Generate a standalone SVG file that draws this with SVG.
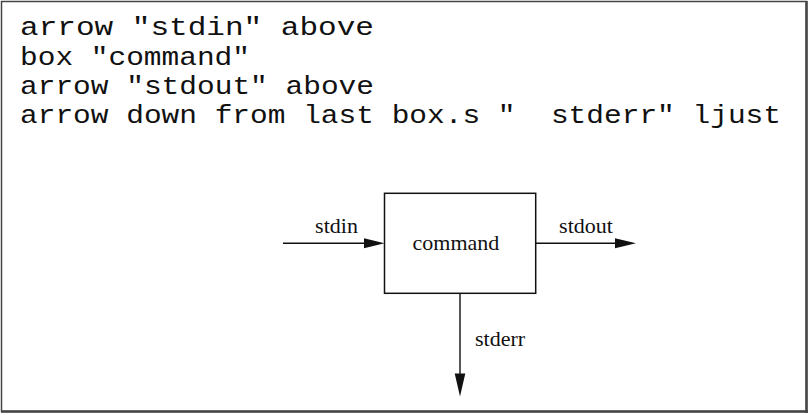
<svg xmlns="http://www.w3.org/2000/svg" width="809" height="415" viewBox="0 0 809 415">
<style>
.code{font-family:"Liberation Mono","Courier New",monospace;font-size:25px;fill:#111;white-space:pre}
.lbl{font-family:"Liberation Serif","Times New Roman",serif;font-size:22px;fill:#111}
.ln{stroke:#111;stroke-width:1.4;fill:none}
.head{fill:#111}
</style>
<rect x="0" y="0" width="809" height="415" fill="#fff"/>
<g id="frame">
<rect x="1.5" y="1.5" width="805" height="410" fill="none" stroke="#444" stroke-width="1.5"/>
<line x1="806.5" y1="1" x2="806.5" y2="413" stroke="#444" stroke-width="2.5"/>
<line x1="1" y1="411.5" x2="808" y2="411.5" stroke="#444" stroke-width="2.5"/>
</g>
<g id="code">
<text class="code" x="20" y="35" textLength="354" lengthAdjust="spacingAndGlyphs" xml:space="preserve">arrow "stdin" above</text>
<text class="code" x="20" y="64.5" textLength="230" lengthAdjust="spacingAndGlyphs" xml:space="preserve">box "command"</text>
<text class="code" x="20" y="93.5" textLength="354" lengthAdjust="spacingAndGlyphs" xml:space="preserve">arrow "stdout" above</text>
<text class="code" x="20" y="122.7" textLength="761" lengthAdjust="spacingAndGlyphs" xml:space="preserve">arrow down from last box.s "  stderr" ljust</text>
</g>
<g id="connectors">
<g id="stdin-arrow">
<line class="ln" x1="283" y1="243.3" x2="366" y2="243.3"/>
<polygon class="head" points="364,238.3 384.5,243.3 364,248.3"/>
</g>
<g id="stdout-arrow">
<line class="ln" x1="535.7" y1="243.3" x2="617" y2="243.3"/>
<polygon class="head" points="615,238.3 636,243.3 615,248.3"/>
</g>
<g id="stderr-arrow">
<line class="ln" x1="460" y1="293.3" x2="460" y2="376"/>
<polygon class="head" points="454.7,373.5 460,396.5 465.3,373.5"/>
</g>
</g>
<g id="labels">
<text class="lbl" x="336.5" y="232.7" text-anchor="middle">stdin</text>
<text class="lbl" x="586" y="232.7" text-anchor="middle">stdout</text>
<text class="lbl" x="475" y="345.7">stderr</text>
</g>
<g id="command">
<rect x="384.5" y="193.3" width="151.2" height="100" fill="none" stroke="#111" stroke-width="1.5"/>
<text class="lbl" x="456" y="250" text-anchor="middle">command</text>
</g>
</svg>
